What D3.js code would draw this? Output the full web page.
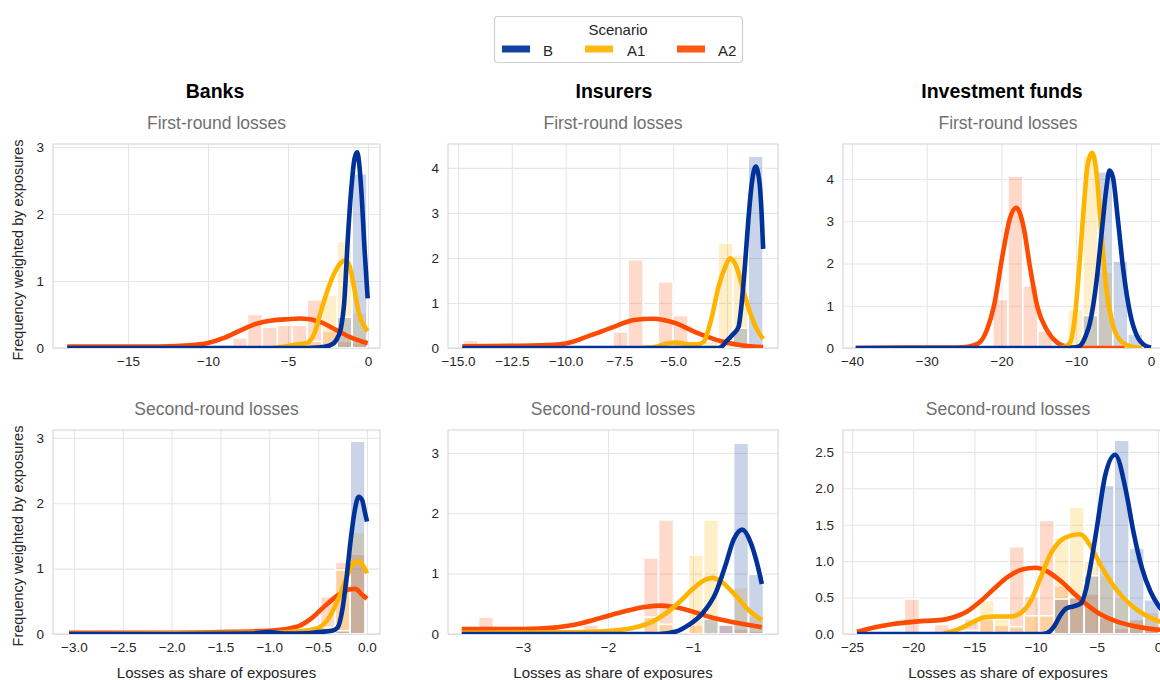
<!DOCTYPE html>
<html><head><meta charset="utf-8">
<script src="https://cdn.jsdelivr.net/npm/d3@7"></script>
<style>
html,body{margin:0;padding:0;background:#fff;}
svg{display:block;font-family:"Liberation Sans",Arial,Helvetica,sans-serif;}
</style></head><body>
<svg id="chart" width="1160" height="680"></svg>
<script>
// ---------------- DATA ----------------
const scenarios = ["B", "A1", "A2"];
const sectors = ["Banks", "Insurers", "Investment funds"];
const rounds = ["First-round losses", "Second-round losses"];
const legendTitle = "Scenario";
const xLabel = "Losses as share of exposures";
const yLabel = "Frequency weighted by exposures";

// histogram bin ranges [lo, hi, count]
const binsBanks1 = [-18.74, -0.06, 20];
const binsIns1 = [-14.77, -0.82, 20];
const binsIF1 = [-39.2, 0.93, 20];
const binsBanks2 = [-3.06, -0.02, 20];
const binsIns2 = [-3.70, -0.17, 20];
const binsIF2 = [-24.4, 0.1, 20];

// histogram heights (20 bins)
const hBanks1B  = [0,0,0,0,0,0,0,0,0,0,0,0,0,0,0,0,0,0.03,0.46,2.6];
const hBanks1A1 = [0,0,0,0,0,0,0,0,0,0,0,0,0,0,0,0,0.1,0.79,1.59,0.52];
const hBanks1A2 = [0.03,0.02,0.02,0.02,0.02,0.02,0.02,0.02,0.03,0.03,0.05,0.15,0.5,0.31,0.34,0.34,0.72,0.25,0.1,0.08];

const hIns1B  = [0,0,0,0,0,0,0,0,0,0,0,0,0,0,0,0,0,0,0.44,4.26];
const hIns1A1 = [0,0,0,0,0,0,0,0,0,0,0,0,0,0,0.1,0.05,0.15,2.33,2.07,0];
const hIns1A2 = [0.17,0.02,0.02,0.02,0.02,0.02,0.02,0.03,0.03,0.03,0.36,1.96,0.04,1.47,0.72,0.08,0.05,0.04,0.03,0.02];

const hIF1B  = [0,0,0,0,0,0,0,0,0,0,0,0,0,0,0.02,0.77,4.17,2.06,0.33,0];
const hIF1A1 = [0,0,0,0,0,0,0,0,0,0,0,0,0,0,0.91,4.55,1.8,0.05,0,0];
const hIF1A2 = [0,0,0,0,0,0.02,0.02,0,0,1.15,4.07,1.47,0.4,0.02,0,0,0,0,0,0];

const hBanks2B  = [0,0,0,0,0,0,0,0,0,0,0,0,0,0.04,0,0,0,0,0.05,2.95];
const hBanks2A1 = [0,0,0,0,0,0,0,0,0,0,0,0,0,0,0,0,0,0.1,0.98,1.55];
const hBanks2A2 = [0,0,0,0,0,0,0,0,0,0,0,0,0,0,0,0,0,0.57,1.1,1.22];

const hIns2B  = [0,0,0,0,0,0,0,0,0,0,0,0,0,0,0,0,0.25,0.15,3.16,0.99];
const hIns2A1 = [0,0,0,0,0,0,0,0,0,0,0,0,0.28,0.16,0,1.31,1.89,0,0.77,0.3];
const hIns2A2 = [0.12,0.28,0,0,0,0,0,0,0.15,0,0,0,1.26,1.89,0,0.15,0,0.15,0.08,0.05];

const hIF2B  = [0,0,0,0,0,0,0,0,0,0,0,0,0.03,0.48,0.5,0.8,2.04,2.66,1.18,0.47];
const hIF2A1 = [0,0,0,0,0,0,0,0.05,0.46,0.2,0.1,0.25,0.25,1.33,1.74,1.0,0.8,0.5,0.2,0.3];
const hIF2A2 = [0,0,0,0.48,0,0.13,0,0.21,0.2,0.12,1.2,0.52,1.56,0.66,0.5,0.55,0.22,0.08,0.2,0.1];

// density curves [x, y]
const kBanks1B  = [[-18.8,0],[-4,0],[-3,0.01],[-2.5,0.03],[-2.1,0.08],[-1.85,0.18],[-1.69,0.3],[-1.48,0.7],[-1.27,1.6],[-1.05,2.36],[-0.84,2.83],[-0.68,2.92],[-0.55,2.75],[-0.42,2.36],[-0.21,1.45],[-0.02,0.74]];
const kBanks1A1 = [[-6,0],[-5,0.03],[-4.3,0.06],[-3.9,0.07],[-3.7,0.09],[-3.3,0.25],[-3.0,0.5],[-2.5,0.88],[-2.1,1.12],[-1.7,1.27],[-1.4,1.31],[-1.15,1.22],[-0.85,0.88],[-0.55,0.5],[-0.25,0.33],[-0.02,0.25]];
const kBanks1A2 = [[-18.8,0.02],[-14,0.02],[-12,0.03],[-11,0.045],[-10,0.075],[-9,0.15],[-8,0.26],[-7,0.36],[-6,0.41],[-5,0.43],[-4.2,0.44],[-3,0.39],[-2,0.27],[-1,0.15],[-0.02,0.07]];

const kIns1B  = [[-14.8,0],[-2.9,0],[-2.75,0.03],[-2.51,0.16],[-2.21,0.31],[-1.97,0.46],[-1.82,0.98],[-1.66,1.87],[-1.51,2.83],[-1.35,3.64],[-1.17,4.03],[-1.0,3.72],[-0.89,2.98],[-0.82,2.2]];
const kIns1A1 = [[-6.5,0],[-5.8,0.03],[-5.3,0.1],[-4.8,0.12],[-4.3,0.08],[-3.9,0.08],[-3.6,0.13],[-3.21,0.68],[-2.9,1.35],[-2.59,1.79],[-2.36,1.99],[-2.05,1.79],[-1.74,1.27],[-1.43,0.79],[-1.12,0.42],[-0.82,0.2]];
const kIns1A2 = [[-14.8,0.04],[-11.2,0.06],[-10,0.1],[-8.85,0.28],[-7.76,0.47],[-6.82,0.62],[-5.95,0.65],[-4.95,0.56],[-3.86,0.33],[-2.77,0.15],[-1.84,0.06],[-0.82,0.02]];

const kIF1B  = [[-39.5,0],[-11,0],[-10,0.02],[-9.5,0.05],[-8.7,0.3],[-8.16,0.6],[-7.27,1.6],[-6.6,2.72],[-5.95,3.8],[-5.55,4.2],[-5.1,4.05],[-4.4,3.0],[-3.7,1.85],[-2.8,0.83],[-1.9,0.3],[-0.6,0.04],[0,0.01]];
const kIF1A1 = [[-12.5,0],[-11.5,0.03],[-10.8,0.14],[-10.2,0.7],[-9.6,1.9],[-9.0,3.3],[-8.5,4.3],[-7.9,4.62],[-7.35,4.25],[-6.7,2.9],[-6.0,1.45],[-5.2,0.62],[-4.0,0.16],[-2.8,0.04],[-1.2,0]];
const kIF1A2 = [[-39.5,0],[-30,0.01],[-26,0.01],[-24.5,0.03],[-23,0.12],[-21.9,0.45],[-21.0,1.0],[-19.8,2.25],[-18.9,3.05],[-18.0,3.32],[-17.05,2.87],[-16.15,1.88],[-15.2,0.98],[-13.9,0.42],[-12.5,0.12],[-11.2,0.03],[-9.5,0],[-3.5,0]];

const kBanks2B  = [[-3.05,0],[-2,0],[-1.2,0.005],[-1.0,0.03],[-0.85,0.005],[-0.6,0.01],[-0.5,0.03],[-0.36,0.05],[-0.3,0.1],[-0.255,0.35],[-0.21,0.85],[-0.17,1.4],[-0.13,1.85],[-0.085,2.1],[-0.05,2.05],[-0.02,1.85],[0,1.72]];
const kBanks2A1 = [[-3.05,0],[-2,0.01],[-1.0,0.02],[-0.8,0.03],[-0.59,0.06],[-0.49,0.1],[-0.39,0.25],[-0.29,0.55],[-0.2,0.9],[-0.14,1.08],[-0.085,1.11],[-0.03,1.02],[0,0.93]];
const kBanks2A2 = [[-3.05,0.02],[-2,0.02],[-1.5,0.03],[-1.0,0.05],[-0.7,0.12],[-0.56,0.25],[-0.43,0.43],[-0.29,0.6],[-0.19,0.68],[-0.12,0.69],[-0.05,0.6],[0,0.54]];

const kIns2B  = [[-3.72,0],[-1.4,0],[-1.2,0.04],[-1.05,0.15],[-0.89,0.34],[-0.73,0.69],[-0.62,1.13],[-0.52,1.57],[-0.42,1.73],[-0.32,1.51],[-0.25,1.19],[-0.19,0.83]];
const kIns2A1 = [[-3.72,0.02],[-2.41,0.03],[-2.02,0.05],[-1.71,0.1],[-1.48,0.2],[-1.32,0.34],[-1.16,0.53],[-1.0,0.75],[-0.85,0.9],[-0.77,0.93],[-0.66,0.86],[-0.5,0.64],[-0.34,0.39],[-0.19,0.23]];
const kIns2A2 = [[-3.72,0.08],[-3.2,0.08],[-2.8,0.09],[-2.41,0.15],[-2.1,0.26],[-1.79,0.38],[-1.55,0.45],[-1.38,0.47],[-1.24,0.45],[-1.0,0.37],[-0.77,0.27],[-0.54,0.2],[-0.34,0.15],[-0.19,0.11]];

const kIF2B  = [[-24.6,0],[-9.6,0],[-9.1,0.01],[-8.5,0.1],[-8.0,0.25],[-7.5,0.35],[-6.9,0.38],[-6.3,0.42],[-5.9,0.6],[-5.6,0.85],[-5.0,1.45],[-4.32,2.17],[-3.5,2.46],[-2.6,1.95],[-2.0,1.4],[-1.3,0.9],[-0.6,0.58],[0,0.4],[0.8,0.26]];
const kIF2A1 = [[-17.5,0.01],[-16.96,0.03],[-16.1,0.08],[-15.05,0.17],[-14.2,0.23],[-13.1,0.24],[-12.06,0.24],[-11.2,0.29],[-10.4,0.45],[-9.6,0.77],[-8.8,1.09],[-7.97,1.28],[-7.15,1.35],[-6.35,1.37],[-5.52,1.21],[-4.7,0.95],[-3.88,0.72],[-2.79,0.49],[-1.7,0.33],[-0.6,0.22],[0.8,0.14]];
const kIF2A2 = [[-24.6,0.03],[-23.2,0.09],[-21.9,0.13],[-20.5,0.16],[-19.1,0.18],[-17.8,0.19],[-16.7,0.23],[-15.6,0.31],[-14.5,0.45],[-13.4,0.62],[-12.3,0.78],[-11.2,0.88],[-10.0,0.91],[-9.06,0.86],[-7.97,0.73],[-6.88,0.56],[-5.79,0.4],[-4.7,0.27],[-3.34,0.17],[-1.98,0.11],[-0.6,0.07],[0.8,0.05]];

// tick values
const xTicksBanks1 = [-15, -10, -5, 0];
const yTicksBanks1 = [0, 1, 2, 3];
const xTicksIns1 = [-15, -12.5, -10, -7.5, -5, -2.5];
const yTicksIns1 = [0, 1, 2, 3, 4];
const xTicksIF1 = [-40, -30, -20, -10, 0];
const yTicksIF1 = [0, 1, 2, 3, 4];
const xTicksBanks2 = [-3, -2.5, -2, -1.5, -1, -0.5, 0];
const yTicksBanks2 = [0, 1, 2, 3];
const xTicksIns2 = [-3, -2, -1];
const yTicksIns2 = [0, 1, 2, 3];
const xTicksIF2 = [-25, -20, -15, -10, -5, 0];
const yTicksIF2 = [0, 0.5, 1, 1.5, 2, 2.5];

// ---------------- STYLE / LAYOUT ----------------
const colors = ["#003299", "#ffb400", "#ff4b00"];
const colX = [[53, 380], [448, 778], [843, 1173]];
const rowY = [[144, 348], [430, 634]];
const titleX = [215, 614, 1002];

const panels = [
  {c:0, r:0, xd:[-19.69, 0.75], yd:[0, 3.045], xt:xTicksBanks1, yt:yTicksBanks1, fx:"d", fy:"d", bins:binsBanks1, h:[hBanks1B,hBanks1A1,hBanks1A2], k:[kBanks1B,kBanks1A1,kBanks1A2]},
  {c:1, r:0, xd:[-15.465, -0.13], yd:[0, 4.53], xt:xTicksIns1, yt:yTicksIns1, fx:".1f", fy:"d", bins:binsIns1, h:[hIns1B,hIns1A1,hIns1A2], k:[kIns1B,kIns1A1,kIns1A2]},
  {c:2, r:0, xd:[-41.2, 2.95], yd:[0, 4.83], xt:xTicksIF1, yt:yTicksIF1, fx:"d", fy:"d", bins:binsIF1, h:[hIF1B,hIF1A1,hIF1A2], k:[kIF1B,kIF1A1,kIF1A2]},
  {c:0, r:1, xd:[-3.214, 0.133], yd:[0, 3.12], xt:xTicksBanks2, yt:yTicksBanks2, fx:".1f", fy:"d", bins:binsBanks2, h:[hBanks2B,hBanks2A1,hBanks2A2], k:[kBanks2B,kBanks2A1,kBanks2A2]},
  {c:1, r:1, xd:[-3.882, 0.0], yd:[0, 3.38], xt:xTicksIns2, yt:yTicksIns2, fx:"d", fy:"d", bins:binsIns2, h:[hIns2B,hIns2A1,hIns2A2], k:[kIns2B,kIns2A1,kIns2A2]},
  {c:2, r:1, xd:[-25.74, 1.23], yd:[0, 2.80], xt:xTicksIF2, yt:yTicksIF2, fx:"d", fy:".1f", bins:binsIF2, h:[hIF2B,hIF2A1,hIF2A2], k:[kIF2B,kIF2A1,kIF2A2]}
];

const svg = d3.select("#chart");
const textColor = "#262626";

panels.forEach((p, i) => {
  const [x0, x1] = colX[p.c];
  const [y0, y1] = rowY[p.r];
  const x = d3.scaleLinear().domain(p.xd).range([x0, x1]);
  const y = d3.scaleLinear().domain(p.yd).range([y1, y0]);
  const g = svg.append("g");

  g.append("clipPath").attr("id", "clip" + i)
    .append("rect").attr("x", x0).attr("y", y0).attr("width", x1 - x0).attr("height", y1 - y0);

  // grid via axes
  const gx = g.append("g").attr("transform", `translate(0,${y1})`)
    .call(d3.axisBottom(x).tickValues(p.xt).tickSize(-(y1 - y0)).tickPadding(6).tickFormat(d3.format(p.fx)));
  const gy = g.append("g").attr("transform", `translate(${x0},0)`)
    .call(d3.axisLeft(y).tickValues(p.yt).tickSize(-(x1 - x0)).tickPadding(9).tickFormat(d3.format(p.fy)));
  [gx, gy].forEach(a => {
    a.select(".domain").remove();
    a.selectAll(".tick line").attr("stroke", "#e6e6e6").attr("stroke-width", 1.1);
    a.selectAll(".tick text").attr("fill", textColor).style("font-size", "13.5px")
      .style("font-family", '"Liberation Sans",Arial,sans-serif');
  });
  gx.selectAll(".tick text").attr("dy", "0.9em");

  // frame
  g.append("rect").attr("x", x0).attr("y", y0).attr("width", x1 - x0).attr("height", y1 - y0)
    .attr("fill", "none").attr("stroke", "#d9d9d9").attr("stroke-width", 1.2);

  const plot = g.append("g").attr("clip-path", `url(#clip${i})`);

  // histograms (draw A2, A1, B)
  const [lo, hi, n] = p.bins;
  const w = (hi - lo) / n;
  [2, 1, 0].forEach(s => {
    const data = p.h[s].map((v, k) => ({a: lo + k * w, b: lo + (k + 1) * w, v}))
      .filter(d => d.v > 0);
    plot.append("g").selectAll("rect").data(data).join("rect")
      .attr("x", d => x(d.a)).attr("width", d => x(d.b) - x(d.a))
      .attr("y", d => y(d.v)).attr("height", d => y(0) - y(d.v))
      .attr("fill", colors[s]).attr("fill-opacity", 0.21)
      .attr("stroke", "#fff").attr("stroke-width", 1.6);
  });

  // density lines
  const line = d3.line().x(d => x(d[0])).y(d => y(d[1])).curve(d3.curveMonotoneX);
  [2, 1, 0].forEach(s => {
    plot.append("path").datum(p.k[s]).attr("d", line)
      .attr("fill", "none").attr("stroke", colors[s]).attr("stroke-width", 4.6)
      .attr("stroke-linejoin", "round").attr("stroke-linecap", "butt");
  });

  // subtitle
  svg.append("text").attr("x", (x0 + x1) / 2).attr("y", p.r === 0 ? 129 : 415)
    .attr("text-anchor", "middle").attr("fill", "#707070").style("font-size", "17.5px")
    .text(rounds[p.r]);

  if (p.r === 1) {
    svg.append("text").attr("x", (x0 + x1) / 2).attr("y", 678)
      .attr("text-anchor", "middle").attr("fill", textColor).style("font-size", "15px")
      .text(xLabel);
  }
  if (p.c === 0) {
    svg.append("text").attr("transform", `translate(23,${(y0 + y1) / 2 + 4}) rotate(-90)`)
      .attr("text-anchor", "middle").attr("fill", textColor).style("font-size", "14.5px")
      .text(yLabel);
  }
});

// column titles
sectors.forEach((s, i) => {
  svg.append("text").attr("x", titleX[i]).attr("y", 98).attr("text-anchor", "middle")
    .attr("fill", "#000").style("font-size", "19.5px").style("font-weight", "bold").text(s);
});

// legend
const lg = svg.append("g");
lg.append("rect").attr("x", 494.5).attr("y", 16.5).attr("width", 248).attr("height", 46).attr("rx", 3)
  .attr("fill", "#fff").attr("stroke", "#d0d0d0").attr("stroke-width", 1.2);
lg.append("text").attr("x", 618).attr("y", 34.5).attr("text-anchor", "middle")
  .attr("fill", textColor).style("font-size", "15px").text(legendTitle);
const legX = [502, 585, 677];
const legTX = [543, 627, 718];
scenarios.forEach((s, i) => {
  lg.append("rect").attr("x", legX[i]).attr("y", 45.5).attr("width", 28).attr("height", 7)
    .attr("fill", colors[i]).attr("fill-opacity", 0.92);
  lg.append("text").attr("x", legTX[i]).attr("y", 55.5).attr("fill", textColor)
    .style("font-size", "15px").text(s);
});
</script></body></html>
